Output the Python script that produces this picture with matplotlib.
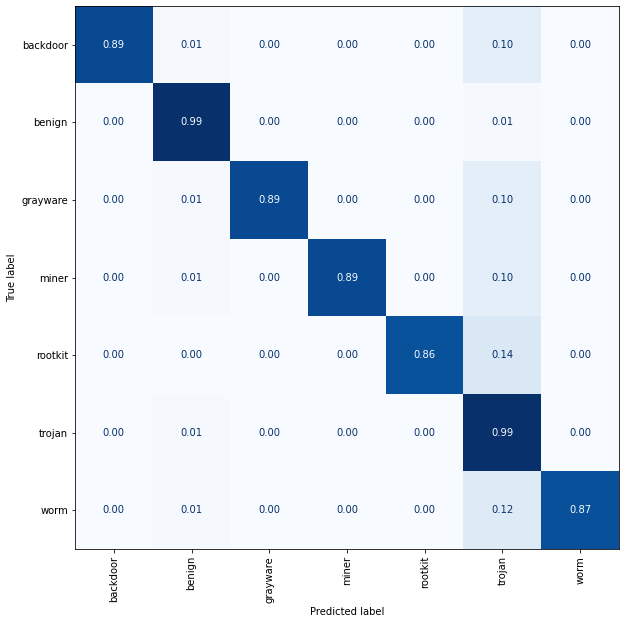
import numpy as np
import matplotlib.pyplot as plt

labels = ['backdoor', 'benign', 'grayware', 'miner', 'rootkit', 'trojan', 'worm']

row_backdoor = [0.89, 0.01, 0.00, 0.00, 0.00, 0.10, 0.00]
row_benign = [0.00, 0.99, 0.00, 0.00, 0.00, 0.01, 0.00]
row_grayware = [0.00, 0.01, 0.89, 0.00, 0.00, 0.10, 0.00]
row_miner = [0.00, 0.01, 0.00, 0.89, 0.00, 0.10, 0.00]
row_rootkit = [0.00, 0.00, 0.00, 0.00, 0.86, 0.14, 0.00]
row_trojan = [0.00, 0.01, 0.00, 0.00, 0.00, 0.99, 0.00]
row_worm = [0.00, 0.01, 0.00, 0.00, 0.00, 0.12, 0.87]

cm = np.array([row_backdoor, row_benign, row_grayware, row_miner,
               row_rootkit, row_trojan, row_worm])

fig = plt.figure(figsize=(625 / 72, 625 / 72), dpi=72)
ax = fig.add_axes([0.12, 0.1216, 0.8704, 0.8688])

cmap = plt.cm.Blues
ax.imshow(cm, cmap=cmap, interpolation='nearest', aspect='auto')

# texto claro/escuro conforme o limiar (igual ao sklearn)
thresh = (cm.max() + cm.min()) / 2.0
cmap_min, cmap_max = cmap(0.0), cmap(1.0)
n = len(labels)
for i in range(n):
    for j in range(n):
        color = cmap_max if cm[i, j] < thresh else cmap_min
        ax.text(j, i, f"{cm[i, j]:.2f}", ha='center', va='center', color=color, fontsize=10)

ax.set_xticks(range(n))
ax.set_yticks(range(n))
ax.set_xticklabels(labels, rotation=90)
ax.set_yticklabels(labels)
ax.set_xlabel('Predicted label')
ax.set_ylabel('True label')
ax.set_xlim(-0.5, n - 0.5)
ax.set_ylim(n - 0.5, -0.5)

plt.savefig('out.png', dpi=72)
